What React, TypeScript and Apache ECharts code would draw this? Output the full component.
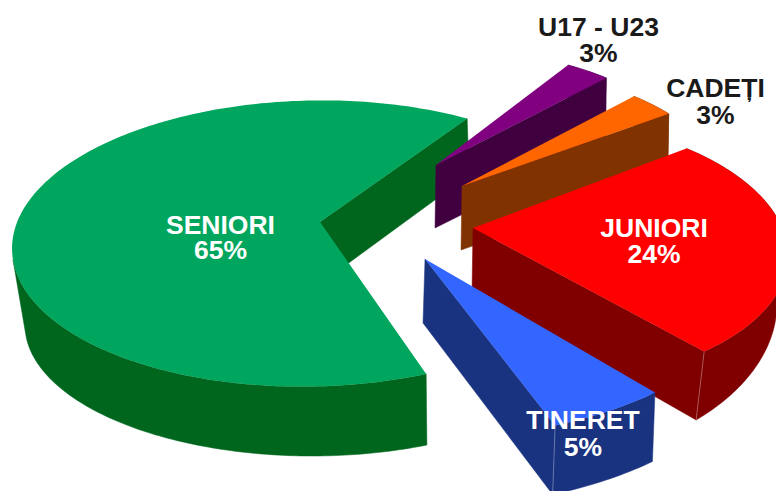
import React, { useEffect, useRef } from "react";
import * as echarts from "echarts";

const categories = ["SENIORI", "U17 - U23", "CADEȚI", "JUNIORI", "TINERET"];
const shares = [65, 3, 3, 24, 5];

const topColors = ["#00A65D", "#800080", "#FF6600", "#FF0000", "#3366FF"];
const sideColors = ["#00661E", "#400040", "#803300", "#800000", "#1A3380"];
const labelColors = ["#FFFFFF", "#1A1A1A", "#1A1A1A", "#FFFFFF", "#FFFFFF"];
const labelCentres = [[220.5, 237.5], [598.5, 40], [715.5, 101], [654, 241], [583, 433.5]];
const labelLineHeights = [25, 26, 27, 26, 27];

type Ellipse = { cx: number; cy: number; rx: number; ry: number; rot: number };
type Shape = {
  apex: number[];
  apexBase: number[];
  rim: Ellipse;
  base: Ellipse;
  start: number;
  baseStart?: number;
  sweepScale: number;
  endBase?: number[];
  wallEnd?: number;
  seam?: boolean;
};

const shapes: Shape[] = [
  {
    apex: [320, 222], apexBase: [320, 284],
    rim: { cx: 312, cy: 243.5, rx: 300, ry: 143, rot: -0.021 },
    base: { cx: 312, cy: 325, rx: 287, ry: 131, rot: 0 },
    start: 68.2, baseStart: 66.4, sweepScale: 0.998, endBase: [469, 175], wallEnd: 176,
  },
  {
    apex: [436, 165], apexBase: [435, 228],
    rim: { cx: 436, cy: 165, rx: 255, ry: 117, rot: 0 },
    base: { cx: 435, cy: 230, rx: 255, ry: 117, rot: 0 },
    start: -58.8, sweepScale: 0.99,
  },
  {
    apex: [462, 186], apexBase: [461, 250],
    rim: { cx: 462, cy: 186, rx: 259, ry: 120, rot: 0 },
    base: { cx: 461, cy: 250, rx: 259, ry: 120, rot: 0 },
    start: -48.4, sweepScale: 1.05,
  },
  {
    apex: [473, 228], apexBase: [472, 292],
    rim: { cx: 526, cy: 250, rx: 262, ry: 133, rot: 0.03 },
    base: { cx: 515, cy: 303, rx: 262, ry: 162, rot: 0 },
    start: -53.1, sweepScale: 1.15, seam: true,
  },
  {
    apex: [425, 259], apexBase: [423, 323],
    rim: { cx: 425, cy: 259, rx: 343, ry: 180, rot: 0 },
    base: { cx: 422.5, cy: 328, rx: 343, ry: 180, rot: 0 },
    start: 47.9, sweepScale: 1.1, seam: true,
  },
];

const total = shares.reduce((a, b) => a + b, 0);
const FONT = '"Liberation Sans", Arial, sans-serif';

function onEllipse(e: Ellipse, deg: number): number[] {
  const t = (deg * Math.PI) / 180;
  const u = e.rx * Math.cos(t);
  const v = e.ry * Math.sin(t);
  return [
    e.cx + u * Math.cos(e.rot) - v * Math.sin(e.rot),
    e.cy + u * Math.sin(e.rot) + v * Math.cos(e.rot),
  ];
}

function arc(e: Ellipse, from: number, to: number): number[][] {
  const n = Math.max(2, Math.ceil(Math.abs(to - from)));
  const pts: number[][] = [];
  for (let i = 0; i <= n; i++) pts.push(onEllipse(e, from + ((to - from) * i) / n));
  return pts;
}

function renderSlice(params: any, api: any) {
  const i = params.dataIndex;
  const s = shapes[i];
  const value = api.value(0) as number;
  const end = s.start + (value / total) * 360 * s.sweepScale;
  const wallEnd = s.wallEnd !== undefined ? Math.min(end, s.wallEnd) : end;
  const rimEnd = onEllipse(s.rim, end);
  const baseEnd = s.endBase ?? onEllipse(s.base, end);

  const wall = [...arc(s.rim, s.start, wallEnd), ...arc(s.base, wallEnd, s.baseStart ?? s.start)];
  const cut = [s.apex, rimEnd, baseEnd, s.apexBase];
  const top = [s.apex, ...arc(s.rim, s.start, end)];

  const side = sideColors[i];
  const children: any[] = [
    { type: "polygon", shape: { points: wall }, style: { fill: side, stroke: side, lineWidth: 0.5 } },
    { type: "polygon", shape: { points: cut }, style: { fill: side, stroke: side, lineWidth: 0.5 } },
    { type: "polygon", shape: { points: top }, style: { fill: topColors[i] } },
  ];
  if (s.seam) {
    children.push({
      type: "line",
      shape: { x1: rimEnd[0], y1: rimEnd[1], x2: baseEnd[0], y2: baseEnd[1] },
      style: { stroke: "rgba(255,255,255,0.3)", lineWidth: 1 },
    });
  }
  children.push({
    type: "text",
    x: labelCentres[i][0],
    y: labelCentres[i][1],
    style: {
      text: `${categories[i]}\n${value}%`,
      fill: labelColors[i],
      font: `bold 26.5px ${FONT}`,
      lineHeight: labelLineHeights[i],
      align: "center",
      verticalAlign: "middle",
    },
  });
  return { type: "group", children };
}

export default function App() {
  const ref = useRef<HTMLDivElement>(null);
  useEffect(() => {
    const chart = echarts.init(ref.current!, undefined, { renderer: "svg" });
    chart.setOption({
      animation: false,
      backgroundColor: "#FFFFFF",
      series: [
        {
          type: "custom",
          coordinateSystem: "none",
          silent: true,
          renderItem: renderSlice,
          data: shares.map((v) => [v]),
        },
      ],
    });
    return () => chart.dispose();
  }, []);
  return (
    <div
      ref={ref}
      style={{ position: "fixed", left: 0, top: 0, width: 776, height: 491, overflow: "hidden" }}
    />
  );
}
